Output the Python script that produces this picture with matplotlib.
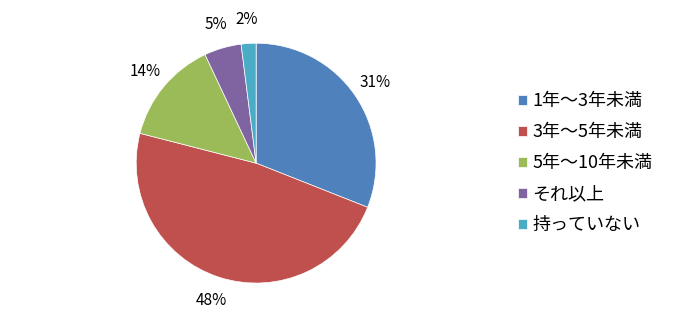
import matplotlib
matplotlib.use("Agg")
import matplotlib.pyplot as plt

plt.rcParams['font.family'] = ['Noto Sans CJK JP', 'DejaVu Sans']

labels = ["1年～3年未満", "3年～5年未満", "5年～10年未満", "それ以上", "持っていない"]
shares = [31, 48, 14, 5, 2]
colors = ["#4F81BD", "#C0504D", "#9BBB59", "#8064A2", "#4BACC6"]

fig = plt.figure(figsize=(6.74, 3.25), dpi=100)
ax = fig.add_axes([0.202, 0.129, 0.356, 0.738])

wedges, texts, autotexts = ax.pie(
    shares, colors=colors, startangle=90, counterclock=False,
    autopct="%d%%", pctdistance=1.2,
    wedgeprops=dict(edgecolor="white", linewidth=0.5),
    textprops=dict(fontsize=11, color="black"))
ax.set_xlim(-1, 1)
ax.set_ylim(-1, 1)
ax.set_aspect("equal")

leg = fig.legend(wedges, labels, loc="center left", bbox_to_anchor=(0.768, 0.497),
                 frameon=False, fontsize=13, handlelength=0.5, handleheight=0.5,
                 handletextpad=0.3, labelspacing=0.72, borderaxespad=0, borderpad=0)

fig.savefig("out.png", dpi=100)
